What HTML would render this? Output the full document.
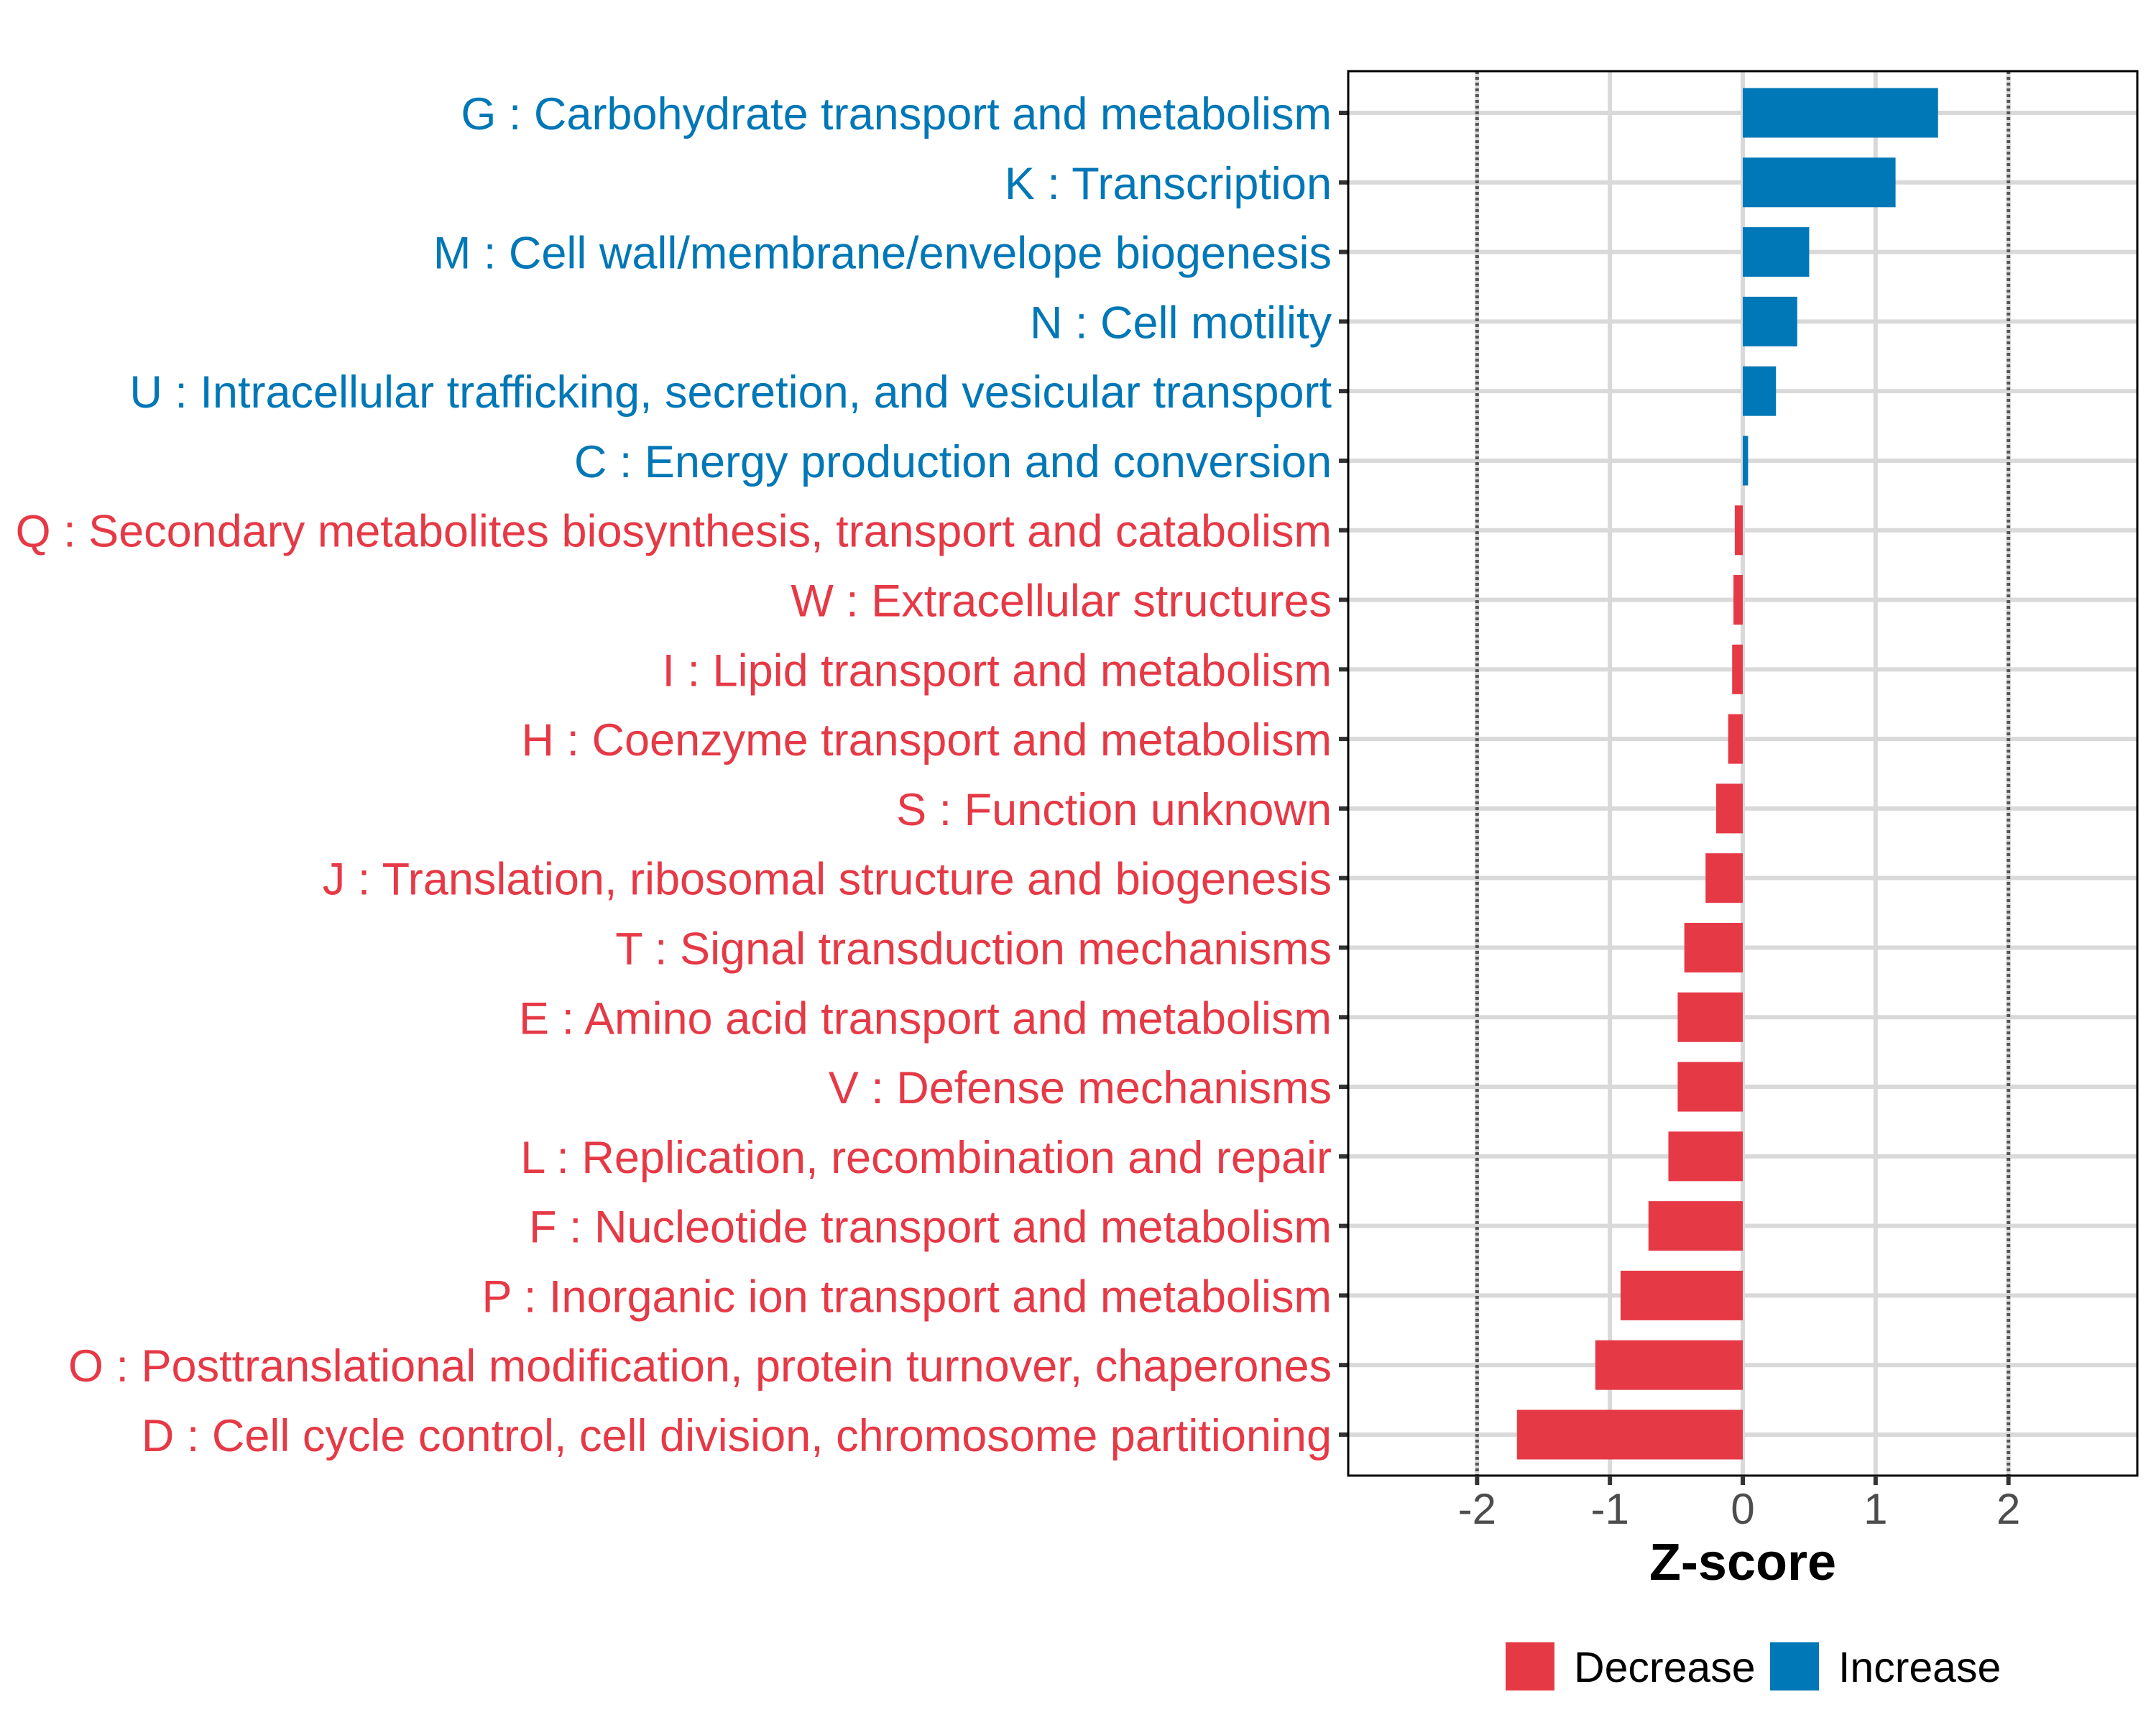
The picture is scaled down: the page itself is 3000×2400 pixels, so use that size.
<!DOCTYPE html>
<html><head><meta charset="utf-8"><style>
html,body{margin:0;padding:0;background:#fff;}
svg{display:block;}
text{font-family:"Liberation Sans",Arial,sans-serif;}
</style></head><body>
<svg id="chart" width="3000" height="2400" viewBox="0 0 3000 2400" xmlns="http://www.w3.org/2000/svg">
<rect x="0" y="0" width="3000" height="2400" fill="#fff"/>
<g id="grid"></g>
<g id="bars"></g>
<g id="labels"></g>
<g id="axis"></g>
</svg>
<script>
const categories = [
"G : Carbohydrate transport and metabolism",
"K : Transcription",
"M : Cell wall/membrane/envelope biogenesis",
"N : Cell motility",
"U : Intracellular trafficking, secretion, and vesicular transport",
"C : Energy production and conversion",
"Q : Secondary metabolites biosynthesis, transport and catabolism",
"W : Extracellular structures",
"I : Lipid transport and metabolism",
"H : Coenzyme transport and metabolism",
"S : Function unknown",
"J : Translation, ribosomal structure and biogenesis",
"T : Signal transduction mechanisms",
"E : Amino acid transport and metabolism",
"V : Defense mechanisms",
"L : Replication, recombination and repair",
"F : Nucleotide transport and metabolism",
"P : Inorganic ion transport and metabolism",
"O : Posttranslational modification, protein turnover, chaperones",
"D : Cell cycle control, cell division, chromosome partitioning"
];
const zscores = [1.47,1.15,0.50,0.41,0.25,0.04,-0.06,-0.07,-0.08,-0.11,-0.20,-0.28,-0.44,-0.49,-0.49,-0.56,-0.71,-0.92,-1.11,-1.70];
const xTicks = [-2,-1,0,1,2];
const xTickLabels = ["-2","-1","0","1","2"];
const thresholds = [-2,2];
const legendLabels = ["Decrease","Increase"];

const NS="http://www.w3.org/2000/svg";
const RED="#E63946", BLUE="#0077B6";
const P={l:1876,r:2974,t:99,b:2053};
const xMin=-2.97, xMax=2.97;
const x=v=>P.l+(v-xMin)/(xMax-xMin)*(P.r-P.l);
const rowStep=(1996-157)/19;
const y=i=>157+i*rowStep;
const barH=69;
function el(tag,attrs,parent){const e=document.createElementNS(NS,tag);for(const k in attrs)e.setAttribute(k,attrs[k]);parent.appendChild(e);return e;}
const g=document.getElementById('grid'),b=document.getElementById('bars'),lb=document.getElementById('labels'),ax=document.getElementById('axis');

categories.forEach((c,i)=>{
  const l=el('line',{x1:P.l,x2:P.r,y1:y(i),y2:y(i),stroke:'#d9d9d9','stroke-width':6},g);
  
  
});
xTicks.forEach(t=>{
  const l=el('line',{x1:x(t),x2:x(t),y1:P.t,y2:P.b,stroke:'#d9d9d9','stroke-width':6},g);
  
  
});
thresholds.forEach(t=>{
  const l=el('line',{x1:x(t),x2:x(t),y1:P.t,y2:P.b,stroke:'#555','stroke-width':5,'stroke-dasharray':'4 4'},g);
  
  
});
zscores.forEach((v,i)=>{
  const x0=x(Math.min(0,v)), w=Math.abs(x(v)-x(0));
  const r=el('rect',{x:x0,y:y(i)-barH/2,width:w,height:barH,fill:v>=0?BLUE:RED},b);
  
  
  const t=el('text',{x:1853,y:y(i)+23,'text-anchor':'end','font-size':63,fill:v>=0?BLUE:RED},lb);
  t.textContent=categories[i];
  
  
  const tk=el('line',{x1:1863,x2:P.l,y1:y(i),y2:y(i),stroke:'#333','stroke-width':6},ax);
  
  
});
const bd=el('rect',{x:P.l,y:P.t,width:P.r-P.l,height:P.b-P.t,fill:'none',stroke:'#000','stroke-width':3},ax);


xTicks.forEach((t,i)=>{
  const tk=el('line',{x1:x(t),x2:x(t),y1:P.b,y2:P.b+13,stroke:'#333','stroke-width':6},ax);
  
  
  const tl=el('text',{x:x(t),y:2120,'text-anchor':'middle','font-size':60,fill:'#4d4d4d'},ax);
  tl.textContent=xTickLabels[i];
  
  
});
const xt=el('text',{x:x(0),y:2198,'text-anchor':'middle','font-size':72,'font-weight':'bold',fill:'#000'},ax);
xt.textContent='Z-score';


const legX=[2095,2463], legCol=[RED,BLUE];
legendLabels.forEach((s,i)=>{
  const r=el('rect',{x:legX[i],y:2285,width:68,height:67,fill:legCol[i]},ax);
  
  
  const t=el('text',{x:legX[i]+95,y:2340,'font-size':59,fill:'#000'},ax);
  t.textContent=s;
  
  
});
</script>
</body></html>
